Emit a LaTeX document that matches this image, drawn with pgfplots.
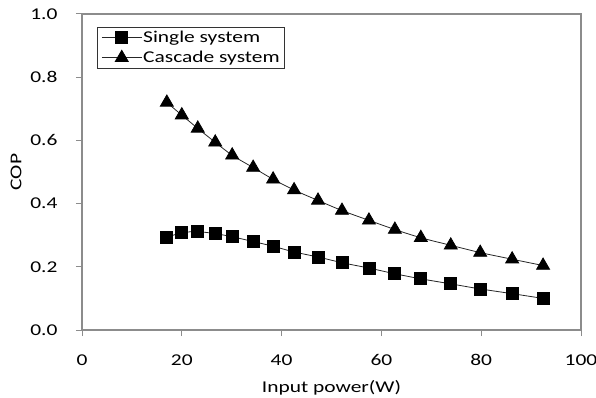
\documentclass[border=0pt]{standalone}
\usepackage{fontspec}
\setmainfont[FakeStretch=1.3]{Carlito}
\usepackage{pgfplots}
\pgfplotsset{compat=1.18}
\begin{document}
\begin{tikzpicture}
\path[use as bounding box] (-82bp,-68bp) rectangle (514bp,330bp);
\begin{axis}[
  at={(0,0)}, anchor=south west,
  width=499bp, height=316bp, scale only axis=true,
  xmin=0, xmax=100, ymin=0, ymax=1.0,
  xtick={0,20,40,60,80,100},
  ytick={0,0.2,0.4,0.6,0.8,1.0},
  yticklabel style={/pgf/number format/fixed, /pgf/number format/fixed zerofill, /pgf/number format/precision=1, xshift=-15bp},
  /pgf/number format/assume math mode=true,
  axis line style={draw=gray!90, line width=1.2pt},
  tick style={draw=gray!90, line width=1pt},
  tick align=outside, major tick length=6bp,
  xtick pos=bottom, ytick pos=left,
  ticklabel style={font=\fontsize{16.5bp}{19bp}\selectfont},
  xticklabel style={yshift=-15bp},
  xlabel={Input power(W)}, ylabel={COP},
  label style={font=\fontsize{16.5bp}{19bp}\selectfont},
  xlabel style={yshift=-8bp},
  ylabel style={yshift=2bp},
  legend style={at={(0.03,0.959)}, anchor=north west, draw=black!80, line width=0.8pt,
    font=\fontsize{16.5bp}{19bp}\selectfont, inner xsep=4bp, inner ysep=3bp, row sep=5bp,
    nodes={inner sep=1bp}},
  legend cell align=left,
  legend image code/.code={
    \draw[#1, mark repeat=2, mark phase=2] plot coordinates {(0bp,0bp) (20bp,0bp) (40bp,0bp)};},
  legend style={/tikz/every even column/.append style={column sep=3bp}},
]
\addplot[black!85, line width=0.8pt, smooth, mark=square*, mark size=6bp, mark options={solid, fill=black, draw=black}]
coordinates {
(17.0,0.293) (20.0,0.308) (23.2,0.311) (26.7,0.305) (30.1,0.295) (34.3,0.280)
(38.3,0.265) (42.5,0.247) (47.3,0.231) (52.1,0.213) (57.5,0.196) (62.7,0.178)
(67.9,0.162) (73.9,0.146) (79.8,0.130) (86.2,0.115) (92.4,0.100)
};
\addlegendentry{Single system}
\addplot[black!85, line width=0.8pt, smooth, mark=triangle*, mark size=7.5bp, mark options={solid, fill=black, draw=black}]
coordinates {
(17.0,0.720) (20.0,0.680) (23.2,0.638) (26.7,0.594) (30.1,0.553) (34.3,0.514)
(38.3,0.477) (42.5,0.443) (47.3,0.410) (52.1,0.378) (57.5,0.347) (62.7,0.318)
(67.9,0.292) (73.9,0.268) (79.8,0.245) (86.2,0.224) (92.4,0.204)
};
\addlegendentry{Cascade system}
\end{axis}
\end{tikzpicture}
\end{document}
